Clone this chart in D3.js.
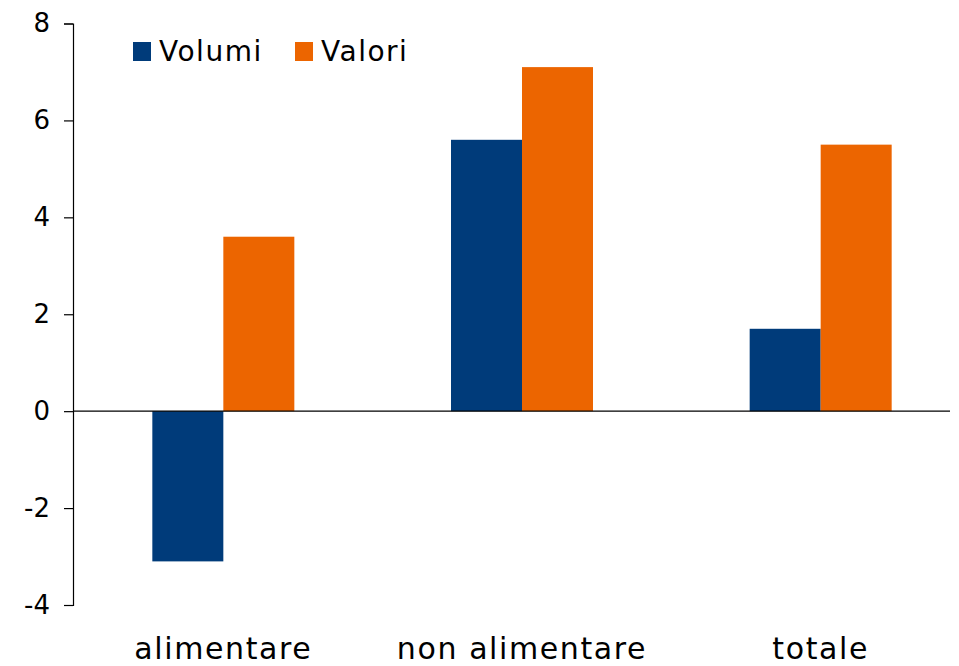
<!DOCTYPE html>
<html>
<head>
<meta charset="utf-8">
<script src="https://cdn.jsdelivr.net/npm/d3@7"></script>
<style>
  body { margin: 0; background: #fff; }
  text { font-family: "Century Gothic", "DejaVu Sans", sans-serif; fill: #000; }
</style>
</head>
<body>
<div id="chart"></div>
<script>
/* DATA */
const categories = ["alimentare", "non alimentare", "totale"];
const seriesNames = ["Volumi", "Valori"];
const volumi = [-3.1, 5.6, 1.7];
const valori = [3.6, 7.1, 5.5];
const yTicks = [-4, -2, 0, 2, 4, 6, 8];

const colors = { Volumi: "#003b7a", Valori: "#ec6500" };

const width = 959, height = 666;

const svg = d3.select("#chart").append("svg")
  .attr("width", width)
  .attr("height", height);

// scales
const x = d3.scaleBand()
  .domain(categories)
  .range([74, 970]);

const x1 = d3.scaleBand()
  .domain(seriesNames)
  .range([0, 142]);

const y = d3.scaleLinear()
  .domain([-4, 8])
  .range([605, 23.5]);

const rows = categories.map((c, i) => ({ cat: c, Volumi: volumi[i], Valori: valori[i] }));

// bars
const groups = svg.selectAll("g.cat")
  .data(rows)
  .join("g")
  .attr("class", "cat")
  .attr("transform", d => `translate(${x(d.cat) + x.bandwidth() / 2 - 71}, 0)`);

groups.selectAll("rect")
  .data(d => seriesNames.map(s => ({ s, v: d[s] })))
  .join("rect")
  .attr("x", d => x1(d.s))
  .attr("width", x1.bandwidth())
  .attr("y", d => y(Math.max(0, d.v)))
  .attr("height", d => Math.abs(y(d.v) - y(0)))
  .attr("fill", d => colors[d.s]);

// zero line
svg.append("line")
  .attr("x1", 73).attr("x2", 950)
  .attr("y1", y(0)).attr("y2", y(0))
  .attr("stroke", "#000")
  .attr("stroke-width", 1.2);

// y axis
const yAxis = d3.axisLeft(y)
  .tickValues(yTicks)
  .tickSize(9)
  .tickPadding(14)
  .tickFormat(d => String(d));

const gy = svg.append("g")
  .attr("transform", "translate(73,0)")
  .call(yAxis);
gy.select(".domain").attr("stroke", "#000").attr("stroke-width", 1.2);
gy.selectAll(".tick line").attr("stroke", "#000").attr("stroke-width", 1.2);
gy.selectAll(".tick text")
  .style("font-family", '"DejaVu Sans", sans-serif')
  .attr("font-size", 26)
  .attr("fill", "#000");

// category labels
svg.selectAll("text.cat-label")
  .data(categories)
  .join("text")
  .attr("class", "cat-label")
  .attr("x", d => x(d) + x.bandwidth() / 2)
  .attr("y", 659)
  .attr("text-anchor", "middle")
  .attr("font-size", 30)
  .attr("letter-spacing", 1.6)
  .text(d => d);

// legend
const legend = svg.append("g").attr("class", "legend");
const legX = [133, 295];
seriesNames.forEach((s, i) => {
  legend.append("rect")
    .attr("x", legX[i]).attr("y", 42)
    .attr("width", 18).attr("height", 19)
    .attr("fill", colors[s]);
  legend.append("text")
    .attr("x", legX[i] + 26)
    .attr("y", 61)
    .attr("font-size", 28)
    .attr("letter-spacing", 1.5)
    .text(s);
});
</script>
</body>
</html>
